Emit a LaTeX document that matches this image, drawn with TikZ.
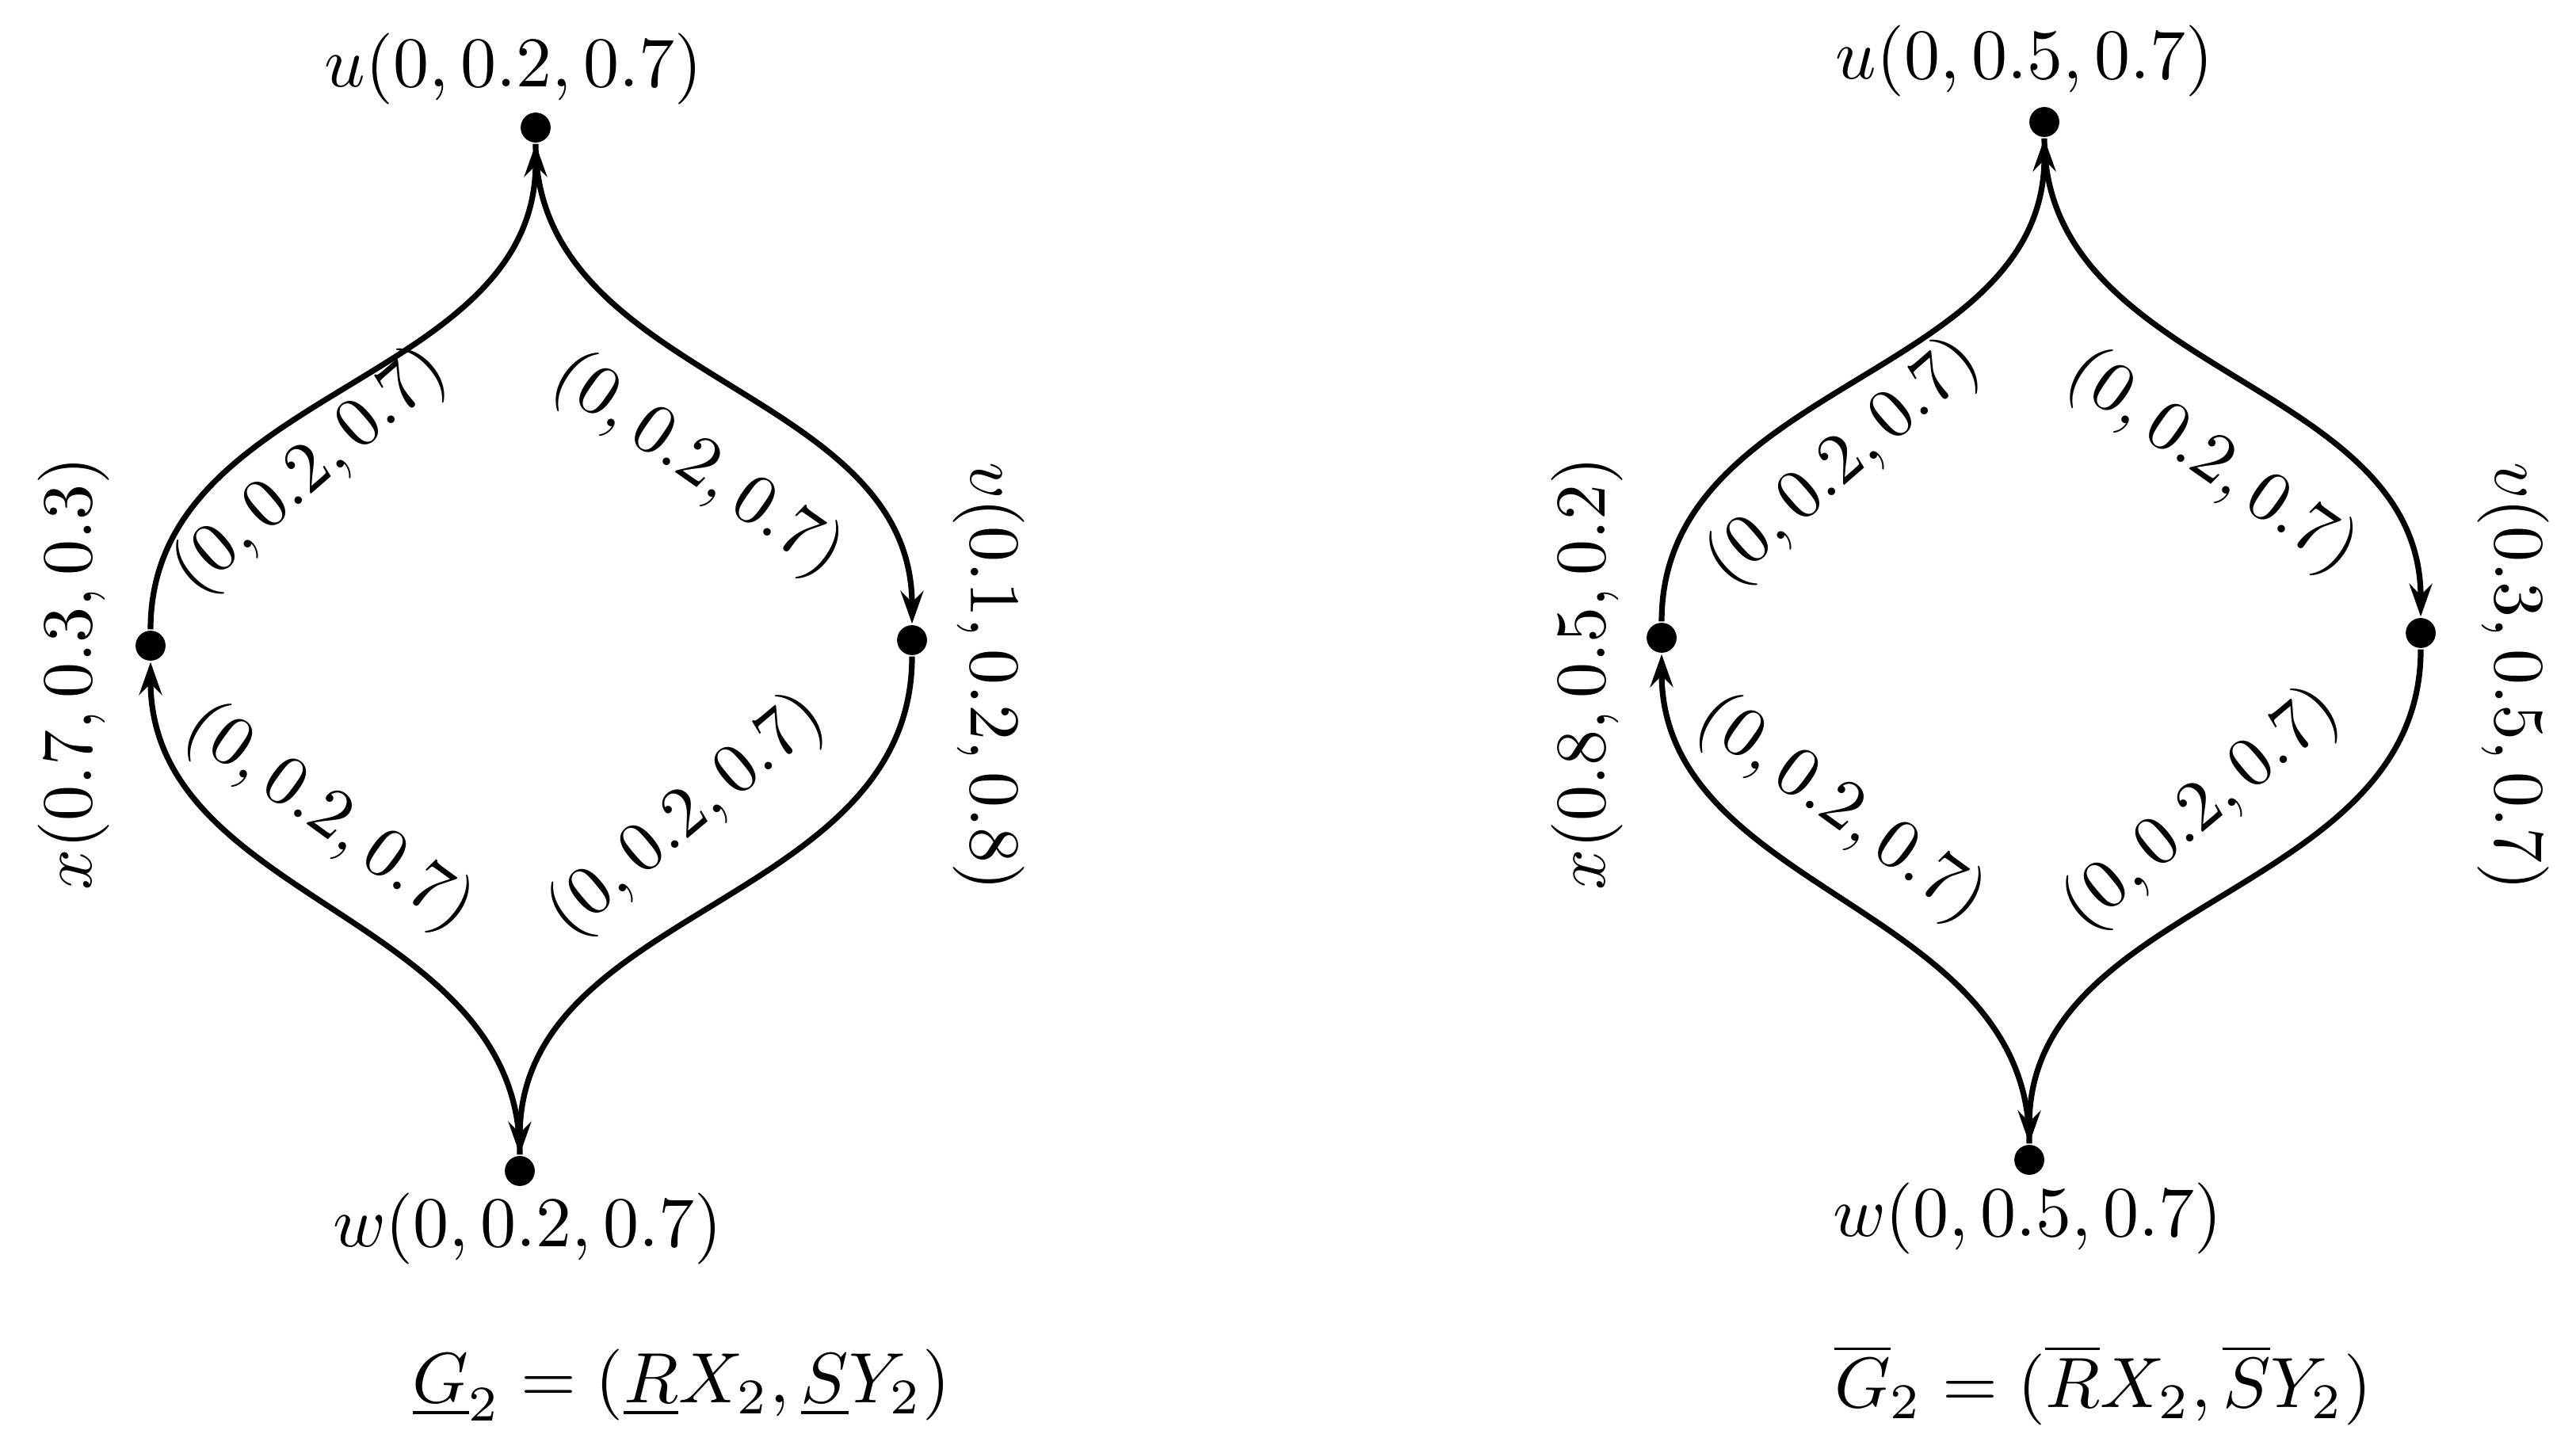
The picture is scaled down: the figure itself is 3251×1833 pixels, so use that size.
\documentclass[tikz,border=0pt]{standalone}
\usetikzlibrary{arrows.meta}
\begin{document}
\begin{tikzpicture}[x=0.11111pt,y=-0.11111pt,
  vtx/.style={circle,fill=black,inner sep=0pt,minimum size=4.2pt},
  lbl/.style={inner sep=0pt},
  arc/.style={line width=0.8pt,-{Stealth[length=4.6pt,width=3.2pt,inset=1.6pt]}},
  elbl/.style={inner sep=0pt}]
\useasboundingbox (0,0) rectangle (3251,1833);
% ---- left graph ----
\node[vtx] (u1) at (676,161) {};
\node[vtx] (x1) at (190,815) {};
\node[vtx] (v1) at (1151,808) {};
\node[vtx] (w1) at (656,1478) {};
\node[lbl] (lu1) at (648,87) {$u(0,0.2,0.7)$};
\node[lbl] (lw1) at (666,1551) {$w(0,0.2,0.7)$};
\node[lbl,rotate=90] (lx1) at (93,850) {$x(0.7,0.3,0.3)$};
\node[lbl,rotate=-90] (lv1) at (1248,854) {$v(0.1,0.2,0.8)$};
\draw[arc] (x1) to[out=90,in=-90] (u1);
\draw[arc] (u1) to[out=-90,in=90] (v1);
\draw[arc] (w1) to[out=90,in=-90] (x1);
\draw[arc] (v1) to[out=-90,in=90] (w1);
\node[elbl,rotate=41] (e11) at (392,595) {$(0,0.2,0.7)$};
\node[elbl,rotate=-35] (e12) at (880,588) {$(0,0.2,0.7)$};
\node[elbl,rotate=-36] (e13) at (415,1033) {$(0,0.2,0.7)$};
\node[elbl,rotate=40] (e14) at (867,1030) {$(0,0.2,0.7)$};
\node[lbl] (cap1) at (860,1748) {$\underline{G}_2=(\underline{R}X_2,\underline{S}Y_2)$};
% ---- right graph ----
\node[vtx] (u2) at (2580,154) {};
\node[vtx] (x2) at (2097,805) {};
\node[vtx] (v2) at (3055,799) {};
\node[vtx] (w2) at (2561,1464) {};
\node[lbl] (lu2) at (2555,77) {$u(0,0.5,0.7)$};
\node[lbl] (lw2) at (2559,1538) {$w(0,0.5,0.7)$};
\node[lbl,rotate=90] (lx2) at (2003,850) {$x(0.8,0.5,0.2)$};
\node[lbl,rotate=-90] (lv2) at (3172,854) {$v(0.3,0.5,0.7)$};
\draw[arc] (x2) to[out=90,in=-90] (u2);
\draw[arc] (u2) to[out=-90,in=90] (v2);
\draw[arc] (w2) to[out=90,in=-90] (x2);
\draw[arc] (v2) to[out=-90,in=90] (w2);
\node[elbl,rotate=41] (e21) at (2327,584) {$(0,0.2,0.7)$};
\node[elbl,rotate=-35] (e22) at (2791,584) {$(0,0.2,0.7)$};
\node[elbl,rotate=-36] (e23) at (2323,1022) {$(0,0.2,0.7)$};
\node[elbl,rotate=40] (e24) at (2779,1022) {$(0,0.2,0.7)$};
\node[lbl] (cap2) at (2654,1748) {$\overline{G}_2=(\overline{R}X_2,\overline{S}Y_2)$};
\end{tikzpicture}
\end{document}
